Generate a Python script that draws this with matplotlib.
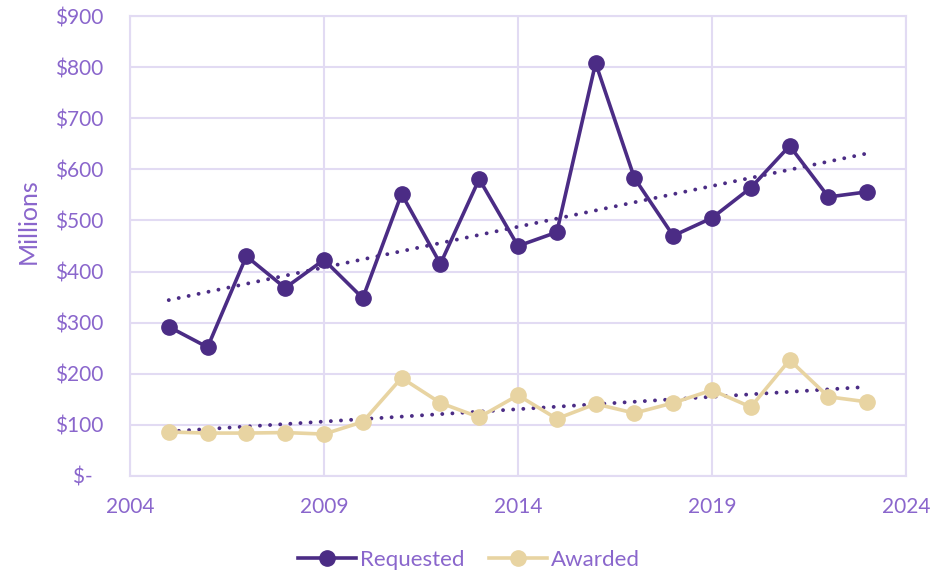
import numpy as np
import matplotlib
matplotlib.use("Agg")
import matplotlib.pyplot as plt
from matplotlib.ticker import FuncFormatter

years = [2005, 2006, 2007, 2008, 2009, 2010, 2011, 2012, 2013, 2014,
         2015, 2016, 2017, 2018, 2019, 2020, 2021, 2022, 2023]
requested = [292, 252, 430, 368, 423, 348, 552, 415, 581, 450,
             477, 808, 583, 470, 505, 564, 646, 546, 556]
awarded = [86, 84, 84, 85, 82, 106, 192, 143, 115, 158,
           112, 141, 123, 143, 168, 135, 227, 155, 145]
x_ticks = [2004, 2009, 2014, 2019, 2024]
y_ticks = [0, 100, 200, 300, 400, 500, 600, 700, 800, 900]

dark = "#4b2c85"
tan = "#e8d4a2"
label_col = "#8a66cc"
grid_col = "#e2dbf3"

plt.rcParams['font.family'] = ['Lato', 'DejaVu Sans']

fig = plt.figure(figsize=(9.39, 5.73), dpi=100)
ax = fig.add_axes([0.1384, 0.1693, 0.8265, 0.8027])

yrs = np.array(years)
for vals in (requested, awarded):
    coef = np.polyfit(yrs, np.array(vals, dtype=float), 1)
    ax.plot(yrs, np.polyval(coef, yrs), linestyle=(0, (0.01, 2.6)), dash_capstyle='round',
            color=dark, linewidth=2.8, zorder=2)

ax.plot(years, requested, color=dark, linewidth=2.6, marker='o', markersize=11,
        label='Requested', zorder=3)
ax.plot(years, awarded, color=tan, linewidth=2.6, marker='o', markersize=11,
        label='Awarded', zorder=3)

ax.set_xlim(2004, 2024)
ax.set_ylim(0, 900)
ax.set_xticks(x_ticks)
ax.set_yticks(y_ticks)
ax.yaxis.set_major_formatter(FuncFormatter(lambda v, p: "$-  " if v == 0 else f"${int(v)}"))
ax.grid(True, color=grid_col, linewidth=1.5)
ax.set_axisbelow(True)
for s in ax.spines.values():
    s.set_color(grid_col)
    s.set_linewidth(1.5)
ax.tick_params(length=0, colors=label_col, labelsize=15, pad=19)
ax.tick_params(axis='x', pad=15)
fig.text(28 / 939, 1 - 221 / 573, "Millions", color=label_col, fontsize=18,
         rotation=90, ha='center', va='center')

fig.legend(loc='center', bbox_to_anchor=(0.4995, 1 - 560 / 573), ncol=2, frameon=False,
           fontsize=16, labelcolor=label_col, handlelength=2.6, columnspacing=1.1,
           handletextpad=0.2)

fig.savefig("out.png", dpi=100)
